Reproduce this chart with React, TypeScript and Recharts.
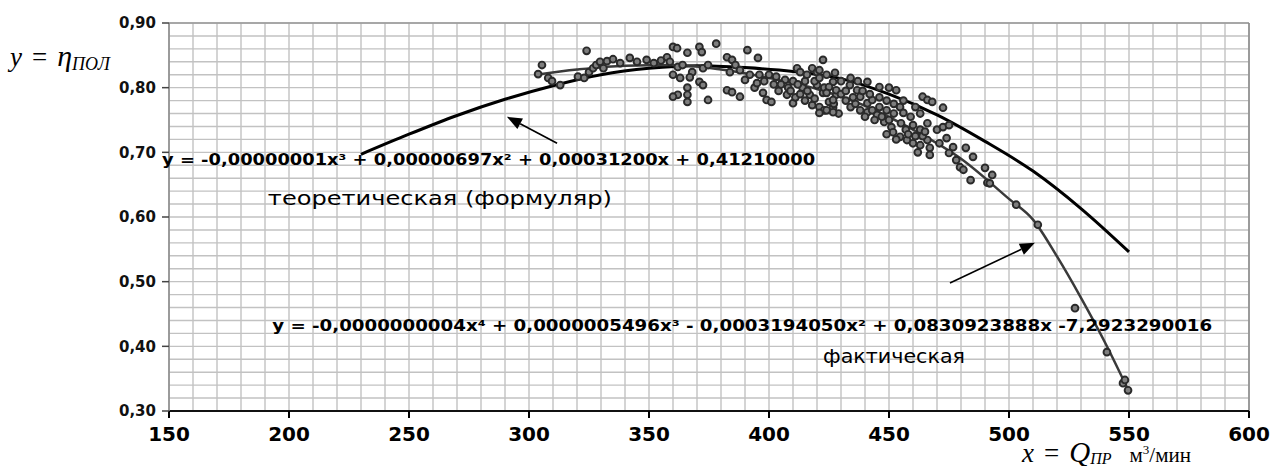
import {
  ComposedChart,
  Line,
  Scatter,
  XAxis,
  YAxis,
  CartesianGrid,
  ReferenceLine,
  ReferenceDot,
} from 'recharts';

// grid / tick values (every 10 on x, every 0.02 on y; labels only on majors)
const xTicks = Array.from({ length: 46 }, (_, i) => 150 + i * 10);
const yTicks = Array.from({ length: 31 }, (_, i) => (30 + 2 * i) / 100);

// theoretical curve (формуляр)
const theoX = [230, 250, 270, 290, 310, 330, 350, 370, 390, 410, 430, 450, 470, 490, 510, 530, 550];
const theoY = [0.697, 0.728, 0.757, 0.782, 0.803, 0.82, 0.83, 0.834, 0.831, 0.825, 0.814, 0.79, 0.758, 0.717, 0.671, 0.613, 0.546];

// fitted curve through the measurements (фактическая)
const factX = [303, 320, 340, 360, 380, 400, 420, 440, 460, 480, 500, 510, 520, 530, 540, 550];
const factY = [0.82, 0.828, 0.834, 0.835, 0.828, 0.815, 0.798, 0.772, 0.735, 0.69, 0.628, 0.596, 0.539, 0.475, 0.406, 0.33];

// measured points [Q, eta]
const measured: [number, number][] = [
  [303.8, 0.821], [305.4, 0.835], [308, 0.815], [309.6, 0.81], [313, 0.804], [320.4, 0.817], [323, 0.815],
  [324, 0.857], [325, 0.824], [326.7, 0.83], [328, 0.835], [329.6, 0.84], [331, 0.83], [332.5, 0.841],
  [335, 0.844], [338, 0.838], [342, 0.846], [345, 0.84], [349, 0.843], [352, 0.838], [355, 0.842], [357.5, 0.847],
  [360, 0.863], [361.7, 0.861], [366, 0.854], [371, 0.863], [372, 0.855], [378, 0.868], [358.7, 0.84],
  [362, 0.832], [364, 0.835], [368, 0.824], [372.5, 0.83], [374.6, 0.835], [360, 0.82], [363, 0.815],
  [367, 0.816], [371, 0.809], [372.5, 0.804], [366, 0.8], [362, 0.789], [360, 0.786], [366, 0.789],
  [366, 0.778], [374.6, 0.781], [382.5, 0.847], [384.6, 0.843], [386, 0.835], [391, 0.858], [395.4, 0.846],
  [383.7, 0.824], [387.9, 0.827], [390, 0.812], [382.5, 0.796], [384.6, 0.793], [387.9, 0.786], [394, 0.8],
  [397.5, 0.792], [399, 0.781], [401, 0.778], [392, 0.82], [396, 0.82], [400, 0.82], [403, 0.817],
  [406.7, 0.812], [407.5, 0.789], [410, 0.776], [411.7, 0.83], [413, 0.824], [415.8, 0.82], [418, 0.83],
  [420, 0.824], [422.5, 0.843], [424, 0.82], [426.7, 0.809], [420, 0.804], [422.5, 0.792], [425, 0.778],
  [426.7, 0.769], [417, 0.789], [414, 0.8], [418, 0.773], [428, 0.789],
  [405, 0.805], [408, 0.8], [410, 0.81], [412, 0.805], [415, 0.81], [416, 0.795], [419, 0.81], [421, 0.815],
  [423, 0.8], [409, 0.795], [411, 0.785], [413, 0.79], [415, 0.78], [419, 0.783], [421, 0.77], [423, 0.765],
  [427, 0.775], [429, 0.76], [404, 0.795], [402, 0.805], [398, 0.81], [395, 0.807],
  [421, 0.827], [427.5, 0.823], [425, 0.801], [428, 0.796], [424, 0.792], [426.7, 0.781], [424, 0.765],
  [426.7, 0.762], [421, 0.761], [433.7, 0.804], [436.7, 0.796], [441, 0.809], [446, 0.801], [450, 0.8],
  [453, 0.796], [438, 0.786], [441, 0.776], [443, 0.781], [446, 0.77], [449, 0.765], [441, 0.762],
  [445, 0.758], [448, 0.747], [451, 0.739], [451.7, 0.731], [454.6, 0.77], [456, 0.761], [459, 0.755],
  [460, 0.742], [463, 0.735], [454.6, 0.724], [457.5, 0.719], [460, 0.714], [463, 0.711], [466, 0.719],
  [467, 0.707], [464, 0.786], [466, 0.781], [468, 0.778], [472.5, 0.769], [466, 0.745], [470, 0.735],
  [472.5, 0.739], [475, 0.742], [474, 0.722], [471, 0.714], [476.7, 0.708], [467, 0.696], [475, 0.699],
  [478, 0.688], [479.6, 0.677], [481, 0.673], [482, 0.707], [485, 0.693], [490, 0.676], [493, 0.665],
  [484, 0.657], [491, 0.653],
  [430, 0.79], [432, 0.78], [434, 0.77], [436, 0.775], [438, 0.765], [440, 0.755], [443, 0.765], [444, 0.75],
  [447, 0.755], [450, 0.75], [452, 0.76], [455, 0.745], [457, 0.735], [449, 0.728], [453, 0.72], [458, 0.728],
  [461, 0.725], [464, 0.725], [462, 0.7], [465, 0.732], [432, 0.795], [435, 0.785], [439, 0.795], [442, 0.79],
  [446, 0.785], [449, 0.78], [452, 0.775], [456, 0.78], [461, 0.77], [463, 0.76], [430, 0.81], [434, 0.815],
  [437, 0.81],
  [492, 0.652], [503, 0.619], [512, 0.588], [527.5, 0.459], [540.8, 0.391], [547.5, 0.343], [548.3, 0.348],
  [549.6, 0.332],
];

const theoData = theoX.map((x, i) => ({ x, y: theoY[i] }));
const factData = factX.map((x, i) => ({ x, y: factY[i] }));
const pointData = measured.map(([x, y]) => ({ x, y }));

const FONT = '"DejaVu Sans", Verdana, sans-serif';
const SERIF = '"Liberation Serif", "Times New Roman", serif';

function XTick({ x, y, payload }: any) {
  const v = payload.value;
  if (v % 50 !== 0) return <g />;
  return (
    <g>
      <line x1={x} x2={x} y1={y - 8} y2={y - 1} stroke="#000" strokeWidth={2} />
      <text x={x} y={y + 22} textAnchor="middle" fontFamily={FONT} fontWeight="bold" fontSize={20} fill="#000">
        {v}
      </text>
    </g>
  );
}

function YTick({ x, y, payload }: any) {
  const v = payload.value;
  if (Math.round(v * 100) % 10 !== 0) return <g />;
  return (
    <g>
      <line x1={x + 1} x2={x + 8} y1={y} y2={y} stroke="#444" strokeWidth={1.5} />
      <text x={x - 5} y={y} dy="0.36em" textAnchor="end" fontFamily={FONT} fontWeight="bold" fontSize={15} fill="#111">
        {v.toFixed(2).replace('.', ',')}
      </text>
    </g>
  );
}

function Point({ cx, cy }: any) {
  return <circle cx={cx} cy={cy} r={3.4} fill="#7e7e7e" stroke="#2a2a2a" strokeWidth={1.9} />;
}

function Arrow({ x1, y1, x2, y2 }: any) {
  const a = Math.atan2(y2 - y1, x2 - x1);
  const L = 15;
  const W = 6;
  const bx = x2 - L * Math.cos(a);
  const by = y2 - L * Math.sin(a);
  const pts = [
    [x2, y2],
    [bx + W * Math.sin(a), by - W * Math.cos(a)],
    [bx - W * Math.sin(a), by + W * Math.cos(a)],
  ]
    .map((p) => p.join(','))
    .join(' ');
  return (
    <g>
      <line x1={x1} y1={y1} x2={bx} y2={by} stroke="#000" strokeWidth={1.6} />
      <polygon points={pts} fill="#000" />
    </g>
  );
}

// text note anchored at a data point
function note(text: string, opts: { size: number; bold?: boolean; anchor?: string; len?: number }) {
  return ({ cx, cy }: any) => (
    <text
      x={cx}
      y={cy}
      dy="0.36em"
      textAnchor={opts.anchor || 'start'}
      fontFamily={FONT}
      fontWeight={opts.bold ? 'bold' : 'normal'}
      fontSize={opts.size}
      fill="#000"
      textLength={opts.len}
      lengthAdjust={opts.len ? 'spacingAndGlyphs' : undefined}
    >
      {text}
    </text>
  );
}

const eqTheo = 'y = -0,00000001x³ + 0,00000697x² + 0,00031200x + 0,41210000';
const eqFact = 'y = -0,0000000004x⁴ + 0,0000005496x³ - 0,0003194050x² + 0,0830923888x -7,2923290016';

export default function App() {
  return (
    <div style={{ position: 'absolute', left: 0, top: 0, width: 1274, height: 466, background: '#fff' }}>
      <ComposedChart width={1274} height={466} margin={{ top: 23, right: 25, left: 0, bottom: 0 }}>
        <CartesianGrid stroke="#c2c2c2" strokeWidth={1.4} />
        <XAxis
          type="number"
          dataKey="x"
          domain={[150, 600]}
          ticks={xTicks}
          interval={0}
          height={55}
          tickLine={false}
          tick={<XTick />}
          axisLine={{ stroke: '#111', strokeWidth: 2 }}
          label={{
            content: () => (
              <text x={1022} y={462} fontFamily={SERIF} fill="#000">
                <tspan fontStyle="italic" fontSize={27}>x</tspan>
                <tspan fontSize={27} dx={10}>=</tspan>
                <tspan fontStyle="italic" fontSize={29} dx={10}>Q</tspan>
                <tspan fontStyle="italic" fontSize={16} dy={2}>ПР</tspan>
                <tspan fontSize={21} dx={18} dy={-2}>м</tspan>
                <tspan fontSize={13} dy={-8}>3</tspan>
                <tspan fontSize={21} dy={8}>/мин</tspan>
              </text>
            ),
          }}
        />
        <YAxis
          type="number"
          dataKey="y"
          domain={[0.3, 0.9]}
          ticks={yTicks}
          interval={0}
          width={169}
          tickLine={false}
          tick={<YTick />}
          axisLine={{ stroke: '#888', strokeWidth: 1.5 }}
          label={{
            content: () => (
              <text x={10} y={66} fontFamily={SERIF} fill="#000">
                <tspan fontStyle="italic" fontSize={27}>y</tspan>
                <tspan fontSize={27} dx={10}>=</tspan>
                <tspan fontStyle="italic" fontSize={30} dx={10}>η</tspan>
                <tspan fontStyle="italic" fontSize={18} dy={4}>ПОЛ</tspan>
              </text>
            ),
          }}
        />
        <ReferenceLine y={0.9} stroke="#999" strokeWidth={1.5} />
        <ReferenceLine x={600} stroke="#888" strokeWidth={1.5} />

        <Scatter data={pointData} dataKey="y" shape={<Point />} isAnimationActive={false} />
        <Line data={theoData} dataKey="y" type="monotone" stroke="#000" strokeWidth={3} dot={false} isAnimationActive={false} />
        <Line data={factData} dataKey="y" type="monotone" stroke="#3a3a3a" strokeWidth={2.5} dot={false} isAnimationActive={false} />

        <ReferenceLine segment={[{ x: 311.7, y: 0.714 }, { x: 290.8, y: 0.755 }]} shape={Arrow} />
        <ReferenceLine segment={[{ x: 475.4, y: 0.498 }, { x: 510.8, y: 0.56 }]} shape={Arrow} />

        <ReferenceDot x={419.2} y={0.69} r={0} shape={note(eqTheo, { size: 16, bold: true, anchor: 'end', len: 653 })} />
        <ReferenceDot x={191.2} y={0.629} r={0} shape={note('теоретическая (формуляр)', { size: 20, len: 344 })} />
        <ReferenceDot x={193} y={0.433} r={0} shape={note(eqFact, { size: 16, bold: true, len: 940 })} />
        <ReferenceDot x={422.5} y={0.385} r={0} shape={note('фактическая', { size: 20, len: 142 })} />
      </ComposedChart>
    </div>
  );
}
